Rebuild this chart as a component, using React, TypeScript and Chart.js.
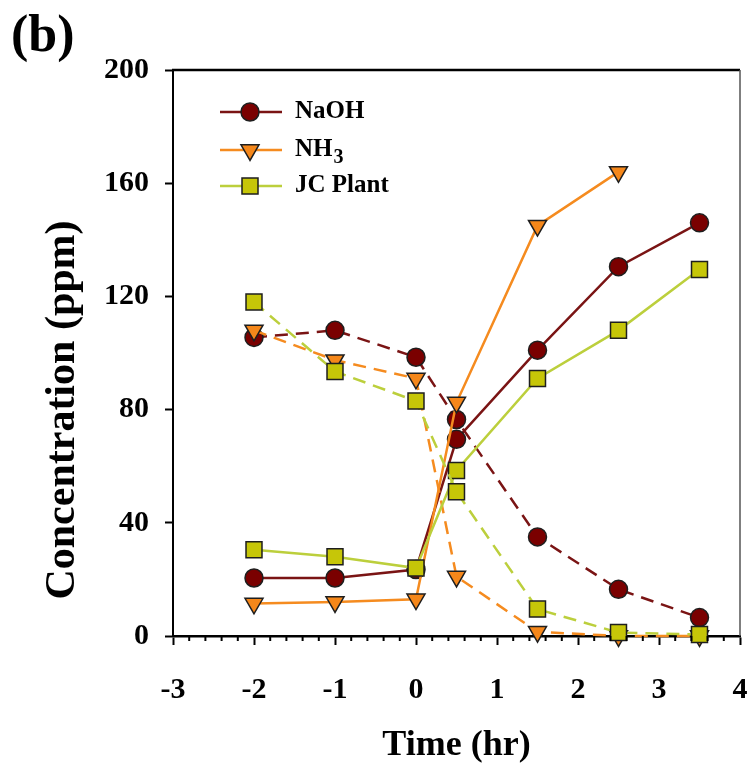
import React, { useEffect, useRef } from 'react';
import { Chart, registerables } from 'chart.js';

Chart.register(...registerables);

// ---- data ----
const timeHr = [-2, -1, 0, 0.5, 1.5, 2.5, 3.5];
const nh3SolidTime = [-2, -1, 0, 0.5, 1.5, 2.5];

const naohSolid = [20.5, 20.5, 23.5, 69.5, 101, 130.5, 146];
const naohDashed = [105.5, 108, 98.5, 76.5, 35, 16.5, 6.5];
const nh3Solid = [11.5, 12, 13, 82.5, 145, 164];
const nh3Dashed = [108, 97.5, 91, 21, 1.5, 0, 0];
const jcSolid = [30.5, 28, 24, 58.5, 91, 108, 129.5];
const jcDashed = [118, 93.5, 83, 51, 9.5, 1.2, 0.5];

const xTickValues = [-3, -2, -1, 0, 1, 2, 3, 4];
const yTickValues = [0, 40, 80, 120, 160, 200];

const legendLabels = ['NaOH', 'NH', 'JC Plant'];

const FONT = "'Liberation Serif', 'Times New Roman', serif";

const C_NAOH_LINE = '#7a1414';
const C_NAOH_FILL = '#7a0000';
const C_NH3_LINE = '#f58b1f';
const C_NH3_FILL = '#f5871a';
const C_JC_LINE = '#bccf3c';
const C_JC_FILL = '#c6c608';
const C_EDGE = '#1e1e1e';

const pts = (xs: number[], ys: number[]) => xs.map((x, i) => ({ x, y: ys[i] }));

function drawMarker(ctx: CanvasRenderingContext2D, kind: string, x: number, y: number, fill: string) {
  ctx.save();
  ctx.fillStyle = fill;
  ctx.strokeStyle = C_EDGE;
  ctx.lineWidth = 1.5;
  ctx.beginPath();
  if (kind === 'circle') {
    ctx.arc(x, y, 9, 0, Math.PI * 2);
  } else if (kind === 'triangle') {
    const r = 10.4;
    ctx.moveTo(x, y + r);
    ctx.lineTo(x - r * Math.sin(Math.PI / 3), y - r / 2);
    ctx.lineTo(x + r * Math.sin(Math.PI / 3), y - r / 2);
    ctx.closePath();
  } else {
    ctx.rect(x - 8, y - 8, 16, 16);
  }
  ctx.fill();
  ctx.stroke();
  ctx.restore();
}

const decorPlugin = {
  id: 'decor',
  afterDraw(chart: any) {
    const { ctx, chartArea, scales } = chart;
    const xs = scales.x;
    ctx.save();
    // frame: top and right
    ctx.strokeStyle = '#000';
    ctx.lineWidth = 2.5;
    ctx.beginPath();
    ctx.moveTo(chartArea.left - 1, chartArea.top);
    ctx.lineTo(chartArea.right, chartArea.top);
    ctx.stroke();
    ctx.strokeStyle = '#555';
    ctx.lineWidth = 1.5;
    ctx.beginPath();
    ctx.moveTo(chartArea.right, chartArea.top);
    ctx.lineTo(chartArea.right, chartArea.bottom);
    ctx.stroke();
    // minor ticks on x axis
    ctx.strokeStyle = '#000';
    ctx.lineWidth = 2;
    for (let i = 0; i <= 35; i++) {
      if (i % 5 === 0) continue;
      const v = -3 + i * 0.2;
      const px = xs.getPixelForValue(v);
      ctx.beginPath();
      ctx.moveTo(px, chartArea.bottom);
      ctx.lineTo(px, chartArea.bottom + 5);
      ctx.stroke();
    }
    // panel label
    ctx.fillStyle = '#000';
    ctx.font = `bold 52px ${FONT}`;
    ctx.textAlign = 'left';
    ctx.textBaseline = 'alphabetic';
    ctx.fillText('(b)', 11, 51);
    // y axis title
    ctx.save();
    ctx.translate(63, 410);
    ctx.rotate(-Math.PI / 2);
    ctx.font = `bold 42px ${FONT}`;
    ctx.textAlign = 'center';
    ctx.textBaseline = 'middle';
    ctx.fillText('Concentration (ppm)', 0, 0);
    ctx.restore();
    // legend
    const entries = [
      { y: 112, line: C_NAOH_LINE, fill: C_NAOH_FILL, kind: 'circle' },
      { y: 150, line: C_NH3_LINE, fill: C_NH3_FILL, kind: 'triangle' },
      { y: 186, line: C_JC_LINE, fill: C_JC_FILL, kind: 'square' },
    ];
    const lx0 = chartArea.left + 47;
    const lx1 = chartArea.left + 109;
    const mx = chartArea.left + 77;
    const tx = chartArea.left + 122;
    entries.forEach((e, i) => {
      ctx.strokeStyle = e.line;
      ctx.lineWidth = 2.5;
      ctx.beginPath();
      ctx.moveTo(lx0, e.y);
      ctx.lineTo(lx1, e.y);
      ctx.stroke();
      drawMarker(ctx, e.kind, mx, e.y, e.fill);
      ctx.fillStyle = '#000';
      ctx.font = `bold 25px ${FONT}`;
      ctx.textAlign = 'left';
      ctx.textBaseline = 'middle';
      ctx.fillText(legendLabels[i], tx, e.y);
      if (i === 1) {
        const w = ctx.measureText(legendLabels[i]).width;
        ctx.font = `bold 20px ${FONT}`;
        ctx.fillText('3', tx + w + 1, e.y + 8);
      }
    });
    ctx.restore();
  },
};

export default function App() {
  const ref = useRef<HTMLCanvasElement>(null);
  useEffect(() => {
    const series = (label: string, xs: number[], ys: number[], line: string, fill: string, style: string, order: number, extra: any = {}) => ({
      label,
      data: pts(xs, ys),
      borderColor: line,
      borderWidth: 2.5,
      backgroundColor: fill,
      pointStyle: style,
      pointBackgroundColor: fill,
      pointBorderColor: C_EDGE,
      pointBorderWidth: 1.5,
      tension: 0,
      fill: false,
      clip: false,
      order,
      ...extra,
    });
    const chart = new Chart(ref.current as HTMLCanvasElement, {
      type: 'line',
      data: {
        datasets: [
          series('NaOH', timeHr, naohSolid, C_NAOH_LINE, C_NAOH_FILL, 'circle', 5, { pointRadius: 9 }),
          series('NaOH (dashed)', timeHr, naohDashed, C_NAOH_LINE, C_NAOH_FILL, 'circle', 4, { pointRadius: 9, borderDash: [13, 8] }),
          series('NH3', nh3SolidTime, nh3Solid, C_NH3_LINE, C_NH3_FILL, 'triangle', 3, { pointRadius: 10.4, rotation: 180 }),
          series('NH3 (dashed)', timeHr, nh3Dashed, C_NH3_LINE, C_NH3_FILL, 'triangle', 2, { pointRadius: 10.4, rotation: 180, borderDash: [13, 8] }),
          series('JC Plant', timeHr, jcSolid, C_JC_LINE, C_JC_FILL, 'rect', 1, { pointRadius: 11.3 }),
          series('JC Plant (dashed)', timeHr, jcDashed, C_JC_LINE, C_JC_FILL, 'rect', 0, { pointRadius: 11.3, borderDash: [13, 8] }),
        ],
      },
      options: {
        responsive: false,
        animation: false,
        events: [],
        layout: { padding: { top: 70, right: 14, left: 0, bottom: 0 } },
        plugins: { legend: { display: false }, tooltip: { enabled: false }, title: { display: false } },
        scales: {
          x: {
            type: 'linear',
            min: -3,
            max: 4,
            afterBuildTicks: (s: any) => { s.ticks = xTickValues.map((v) => ({ value: v })); },
            afterFit: (s: any) => { s.height = 131; s.paddingLeft = 0; s.paddingRight = 0; },
            ticks: { color: '#000', font: { family: FONT, weight: 'bold', size: 30 }, padding: 27, maxRotation: 0 },
            grid: { display: true, drawOnChartArea: false, drawTicks: true, tickLength: 9, tickColor: '#000', tickWidth: 2 },
            border: { display: true, color: '#000', width: 2.5 },
            title: { display: true, text: 'Time (hr)', color: '#000', font: { family: FONT, weight: 'bold', size: 36 }, padding: { top: 0, bottom: 0 } },
          },
          y: {
            type: 'linear',
            min: 0,
            max: 200,
            afterBuildTicks: (s: any) => { s.ticks = yTickValues.map((v) => ({ value: v })); },
            afterFit: (s: any) => { s.width = 173; s.paddingTop = 0; s.paddingBottom = 0; },
            ticks: { color: '#000', font: { family: FONT, weight: 'bold', size: 30 }, padding: 16 },
            grid: { display: true, drawOnChartArea: false, drawTicks: true, tickLength: 8, tickColor: '#000', tickWidth: 2 },
            border: { display: true, color: '#000', width: 2 },
          },
        },
      },
      plugins: [decorPlugin],
    } as any);
    return () => chart.destroy();
  }, []);
  return (
    <div style={{ position: 'fixed', left: 0, top: 0, width: 754, height: 767, background: '#fff' }}>
      <canvas ref={ref} width={754} height={767} style={{ width: 754, height: 767, display: 'block' }} />
    </div>
  );
}
